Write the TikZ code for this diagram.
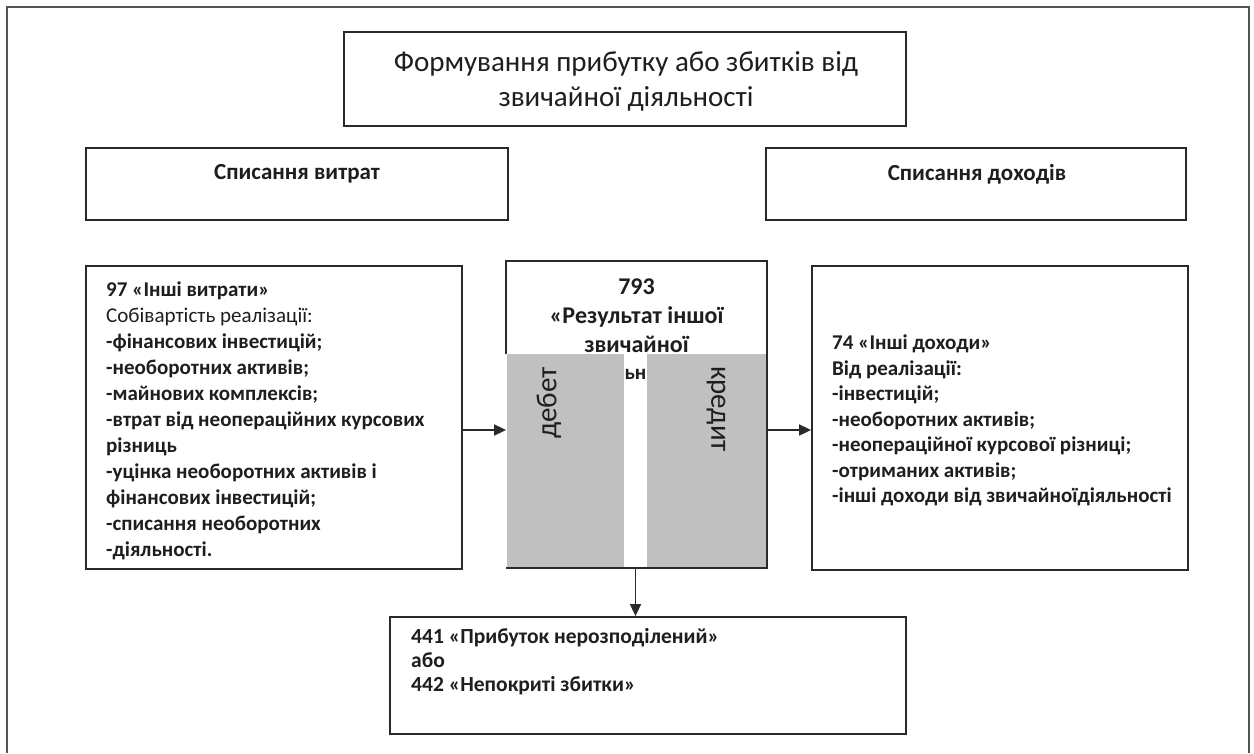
\documentclass[tikz,border=0pt]{standalone}
\usepackage{fontspec}
\setmainfont{Carlito}
\usetikzlibrary{arrows.meta}

\definecolor{ink}{HTML}{1E1E1E}
\definecolor{rule}{HTML}{2A2A2A}
\definecolor{panel}{HTML}{C0C0C0}

\begin{document}
\begin{tikzpicture}[x=1pt,y=-1pt,
  box/.style={draw=rule, line width=1.8pt, fill=white, inner sep=0pt},
  arr/.style={-{Triangle[length=12pt,width=11pt]}, line width=1.7pt, draw=rule},
  txt/.style={text=ink, inner sep=0pt},
  listtxt/.style={txt, align=left, anchor=north west},
  headtxt/.style={txt, font=\bfseries\fontsize{23}{26}\selectfont},
  acctxt/.style={txt, font=\bfseries\fontsize{24}{29}\selectfont, align=center},
  sidetxt/.style={txt, font=\fontsize{29}{32}\selectfont, anchor=west}
]
\useasboundingbox (0,0) rectangle (1254,753);

% outer frame (open at the bottom)
\draw[draw=rule!80, line width=2.4pt] (7,753) -- (7,7) -- (1249,7) -- (1249,753);

% boxes
\node[box, minimum width=562pt, minimum height=94pt] (title) at (625,79) {};
\node[box, minimum width=422pt, minimum height=72pt] (sv) at (297,184) {};
\node[box, minimum width=420pt, minimum height=72pt] (sd) at (976,184) {};
\node[box, minimum width=376pt, minimum height=303pt] (b97) at (274,417.5) {};
\node[box, draw=none, minimum width=259pt, minimum height=305pt] (b793) at (636.5,414.5) {};
\node[box, minimum width=376pt, minimum height=304pt] (b74) at (1000,418) {};
\node[box, minimum width=516pt, minimum height=117pt] (b44) at (648,675.5) {};

% title
\node[txt, font=\fontsize{29}{35}\selectfont, align=center] (ttl) at (626,81)
  {Формування прибутку або збитків від\\звичайної діяльності};

\node[headtxt] (svt) at (297,174) {Списання витрат};
\node[headtxt] (sdt) at (977,174) {Списання доходів};

% account 97
\node[listtxt, font=\bfseries\fontsize{21}{26}\selectfont] (t97) at (106,282)
  {97 «Інші витрати»\\
   {\mdseries Собівартість реалізації:}\\
   -фінансових інвестицій;\\
   -необоротних активів;\\
   -майнових комплексів;\\
   -втрат від неопераційних курсових\\
   різниць\\
   -уцінка необоротних активів і\\
   фінансових інвестицій;\\
   -списання необоротних\\
   -діяльності.};

% account 793 with debit / credit sides
\node[acctxt] (t793) at (636.5,316) {793\\«Результат іншої\\звичайної};
\fill[panel] (507,354) rectangle (624,567);
\fill[panel] (647,354) rectangle (766,567);
\node[txt, font=\bfseries\fontsize{21}{24}\selectfont] (t793b) at (635.5,374) {ьн};
\draw[draw=rule, line width=1.8pt]
  (b793.south west |- 0,354) -- (b793.north west) -- (b793.north east)
  -- (b793.south east) -- (b793.south west);
\node[sidetxt, rotate=90] (deb) at (549,439) {дебет};
\node[sidetxt, rotate=-90] (kred) at (716,366) {кредит};

% account 74
\node[listtxt, font=\bfseries\fontsize{21}{25.5}\selectfont] (t74) at (832,335)
  {74 «Інші доходи»\\
   Від реалізації:\\
   -інвестицій;\\
   -необоротних активів;\\
   -неопераційної курсової різниці;\\
   -отриманих активів;\\
   -інші доходи від звичайноїдіяльності};

% accounts 441 / 442
\node[listtxt, font=\bfseries\fontsize{21.5}{24}\selectfont] (t44) at (411,628)
  {441 «Прибуток нерозподілений»\\
   або\\
   442 «Непокриті збитки»};

% connectors
\draw[arr] ([yshift=-12.5pt]b97.east) -- ([yshift=-12.5pt]b97.east -| b793.west);
\draw[arr] ([yshift=-15.5pt]b793.east) -- ([yshift=-15.5pt]b793.east -| b74.west);
\draw[arr] ([xshift=-1pt]b793.south) -- ([xshift=-1pt]b793.south |- b44.north);
\end{tikzpicture}
\end{document}
